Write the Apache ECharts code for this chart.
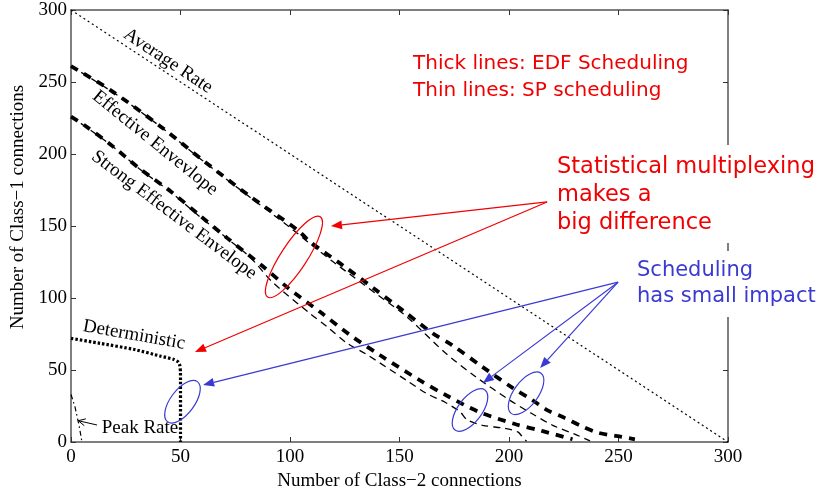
<!doctype html>
<html lang="en">
<head>
<meta charset="utf-8">
<title>Admissible region</title>
<script src="https://cdn.jsdelivr.net/npm/echarts@6.0.0/dist/echarts.min.js"></script>
<style>
  html, body { margin: 0; padding: 0; background: #fff; }
  #main { width: 820px; height: 487px; }
</style>
</head>
<body>
<div id="main"></div>
<script>
// points are [class-2 connections, class-1 connections]
var averageRate = [[0, 300], [300, 0]];

var effectiveEdf = [[0, 261], [18, 244.4], [41, 219], [61, 194.7], [82, 170.3], [103.5, 147.2],
  [109, 139.2], [124, 122.8], [138, 107], [151.6, 91.3], [165, 75.6], [174, 67.3], [188, 52],
  [202, 37.2], [210.5, 29.3], [217, 22.5], [225.6, 16.6], [233, 11.1], [240.6, 6.5], [249, 4.2], [257.5, 1.9]];

var effectiveSp = [[0, 261], [20, 242], [40, 220], [60, 195.5], [80, 172], [100, 149], [110, 136.6],
  [120, 124.8], [140, 102.2], [153, 87.4], [171, 61.8], [185, 45.1], [200, 29.4], [210, 20.1],
  [220, 11.6], [231, 4.8], [237, 0.8]];

var strongEdf = [[0, 226], [6, 220.1], [18.3, 206.3], [31.2, 190], [45.7, 173.8], [58.6, 157.6],
  [71.5, 141.4], [87.7, 121.9], [99, 107.1], [113.7, 90.4], [127.4, 74.3], [141, 60.4], [159, 43.1],
  [171.5, 32.3], [186, 21.1], [202.7, 12.5], [215, 7.7], [229, 1.9]];

var strongSp = [[0, 226], [18, 206.5], [31, 190], [46, 173], [58, 157.5], [72, 140.5], [82, 128],
  [92, 111], [109, 89.4], [117, 80], [126, 68.7], [135, 60.8], [153, 43], [162, 34], [171, 27.4],
  [177.6, 21], [181, 15.3], [188, 11.6], [198, 9.5], [204, 7], [206, 3.8], [208, 0.5]];

var deterministic = [[0, 72], [13.3, 68.5], [28.5, 64.4], [40.7, 59.7], [46.8, 57.4], [49, 55.5],
  [49.7, 53], [50, 48], [50, 0]];

var peakRate = [[0, 33], [1.8, 24.5], [3.8, 10.6], [5, 0]];

// annotation anchors, in data units
var redFrom = [217.4, 166.7];
var redTo = [[118.7, 150], [56.6, 62.5]];
var redRing = [101.8, 128.5];
var blueFrom = [249.8, 111];
var blueTo = [[60.3, 39.6], [188.1, 41], [214.2, 51.4]];
var blueRings = [[50.9, 28], [182.2, 22.2], [207.8, 33.8]];
var peakPointer = [[11.9, 11.8], [3.3, 14.8]];

var serif = '"Liberation Serif", "Times New Roman", serif';
var comic = '"Comic Sans MS", "DejaVu Sans", sans-serif';
var axisColor = '#555';

function valueAxis(extra) {
  var a = {
    type: 'value', min: 0, max: 300, interval: 50,
    axisLine: { show: true, onZero: false, lineStyle: { color: axisColor, width: 1.5 } },
    axisTick: { show: true, inside: true, length: 5, lineStyle: { color: '#333' } },
    axisLabel: { color: '#000', fontFamily: serif, fontSize: 19 },
    splitLine: { show: false }
  };
  for (var k in extra) a[k] = extra[k];
  return a;
}

function curve(name, data, width, dash, smooth) {
  return {
    name: name, type: 'line', data: data, showSymbol: false, smooth: smooth,
    silent: true, animation: false,
    lineStyle: { color: '#000', width: width, type: dash, cap: 'butt' }
  };
}

var chart = echarts.init(document.getElementById('main'));

chart.setOption({
  animation: false,
  grid: { left: 71, right: 92, top: 10, bottom: 45, outerBoundsMode: 'none' },
  xAxis: [
    valueAxis({
      position: 'bottom',
      axisLabel: { color: '#000', fontFamily: serif, fontSize: 19, margin: 6 },
      name: 'Number of Class\u22122 connections', nameLocation: 'middle', nameGap: 24,
      nameTextStyle: { color: '#000', fontFamily: serif, fontSize: 19 }
    }),
    valueAxis({ position: 'top', axisLabel: { show: false } })
  ],
  yAxis: [
    valueAxis({ position: 'left', axisLabel: { color: '#000', fontFamily: serif, fontSize: 19, margin: 4 } }),
    valueAxis({ position: 'right', axisLabel: { show: false } })
  ],
  series: [
    curve('Average Rate', averageRate, 1.2, [2, 3], false),
    curve('Effective Envelope SP', effectiveSp, 1.3, [7, 5], 0.3),
    curve('Strong Effective Envelope SP', strongSp, 1.3, [7, 5], 0.3),
    curve('Effective Envelope EDF', effectiveEdf, 3.8, [8, 7], 0.3),
    curve('Strong Effective Envelope EDF', strongEdf, 3.8, [8, 7], 0.3),
    curve('Deterministic', deterministic, 3.2, [2.5, 2], 0.2),
    curve('Peak Rate', peakRate, 1.2, [5, 3, 1.5, 3], false)
  ]
});

function px(pt) {
  return chart.convertToPixel({ xAxisIndex: 0, yAxisIndex: 0 }, pt);
}

function arrow(a, b, color, width, head) {
  var dx = b[0] - a[0], dy = b[1] - a[1];
  var len = Math.sqrt(dx * dx + dy * dy), ux = dx / len, uy = dy / len;
  var bx = b[0] - ux * head, by = b[1] - uy * head, w = head * 0.4;
  return [
    { type: 'line', z: 110, shape: { x1: a[0], y1: a[1], x2: bx, y2: by },
      style: { stroke: color, lineWidth: width } },
    { type: 'polygon', z: 110,
      shape: { points: [[b[0], b[1]], [bx - uy * w, by + ux * w], [bx + uy * w, by - ux * w]] },
      style: { fill: color } }
  ];
}

function ring(c, rx, ry, angle, color) {
  var p = px(c);
  return { type: 'ellipse', z: 110, x: p[0], y: p[1], rotation: angle,
    shape: { cx: 0, cy: 0, rx: rx, ry: ry },
    style: { fill: 'none', stroke: color, lineWidth: 1.2 } };
}

function label(text, x, y, rot, font, color, align) {
  return { type: 'text', z: 120, x: x, y: y, rotation: rot || 0,
    style: { text: text, fill: color || '#000', font: font,
      textAlign: align || 'center', textVerticalAlign: 'middle' } };
}

var red = '#f00000';
var blue = '#3a3ad2';
var g = [];

// white boxes behind the annotation text
g.push({ type: 'rect', z: 100, shape: { x: 552, y: 145, width: 268, height: 98 }, style: { fill: '#fff' } });
g.push({ type: 'rect', z: 100, shape: { x: 630, y: 251, width: 190, height: 66 }, style: { fill: '#fff' } });

// curve names
g.push(label('Average Rate', 168, 61, -0.585, '19px ' + serif));
g.push(label('Effective Envevlope', 155, 143, -0.68, '19px ' + serif));
g.push(label('Strong Effective Envelope', 174, 215, -0.645, '19px ' + serif));
g.push(label('Deterministic', 134, 335, -0.175, '19px ' + serif));
g.push(label('Peak Rate', 140, 428, 0, '19px ' + serif));
g.push(label('Number of Class\u22121 connections', 18.5, 207, Math.PI / 2, '19px ' + serif));

var pp0 = px(peakPointer[0]), pp1 = px(peakPointer[1]);
g.push({ type: 'line', z: 110, shape: { x1: pp0[0], y1: pp0[1], x2: pp1[0], y2: pp1[1] },
  style: { stroke: '#000', lineWidth: 1 } });
(function () {
  var dx = pp0[0] - pp1[0], dy = pp0[1] - pp1[1], l = Math.sqrt(dx * dx + dy * dy);
  var ux = dx / l, uy = dy / l, h = 7, w = 3.5;
  g.push({ type: 'polyline', z: 110,
    shape: { points: [[pp1[0] + ux * h - uy * w, pp1[1] + uy * h + ux * w], pp1,
      [pp1[0] + ux * h + uy * w, pp1[1] + uy * h - ux * w]] },
    style: { stroke: '#000', lineWidth: 1, fill: 'none' } });
})();

// red annotation
g.push(label('Thick lines: EDF Scheduling', 413, 64, 0, '20px ' + comic, red, 'left'));
g.push(label('Thin lines: SP scheduling', 413, 91, 0, '20px ' + comic, red, 'left'));
g.push(label('Statistical multiplexing', 557, 167, 0, '22.5px ' + comic, red, 'left'));
g.push(label('makes a', 557, 195, 0, '22.5px ' + comic, red, 'left'));
g.push(label('big difference', 557, 223, 0, '22.5px ' + comic, red, 'left'));
var rf = px(redFrom);
redTo.forEach(function (t) { g = g.concat(arrow(rf, px(t), red, 1.2, 11)); });
g.push(ring(redRing, 48, 13, 0.99, red));

// blue annotation
g.push(label('Scheduling', 637, 271, 0, '21px ' + comic, blue, 'left'));
g.push(label('has small impact', 637, 297, 0, '21px ' + comic, blue, 'left'));
var bf = px(blueFrom);
blueTo.forEach(function (t) { g = g.concat(arrow(bf, px(t), blue, 1.2, 11)); });
blueRings.forEach(function (c) { g.push(ring(c, 25, 12, 0.93, blue)); });

chart.setOption({ graphic: { elements: g } });
</script>
</body>
</html>
